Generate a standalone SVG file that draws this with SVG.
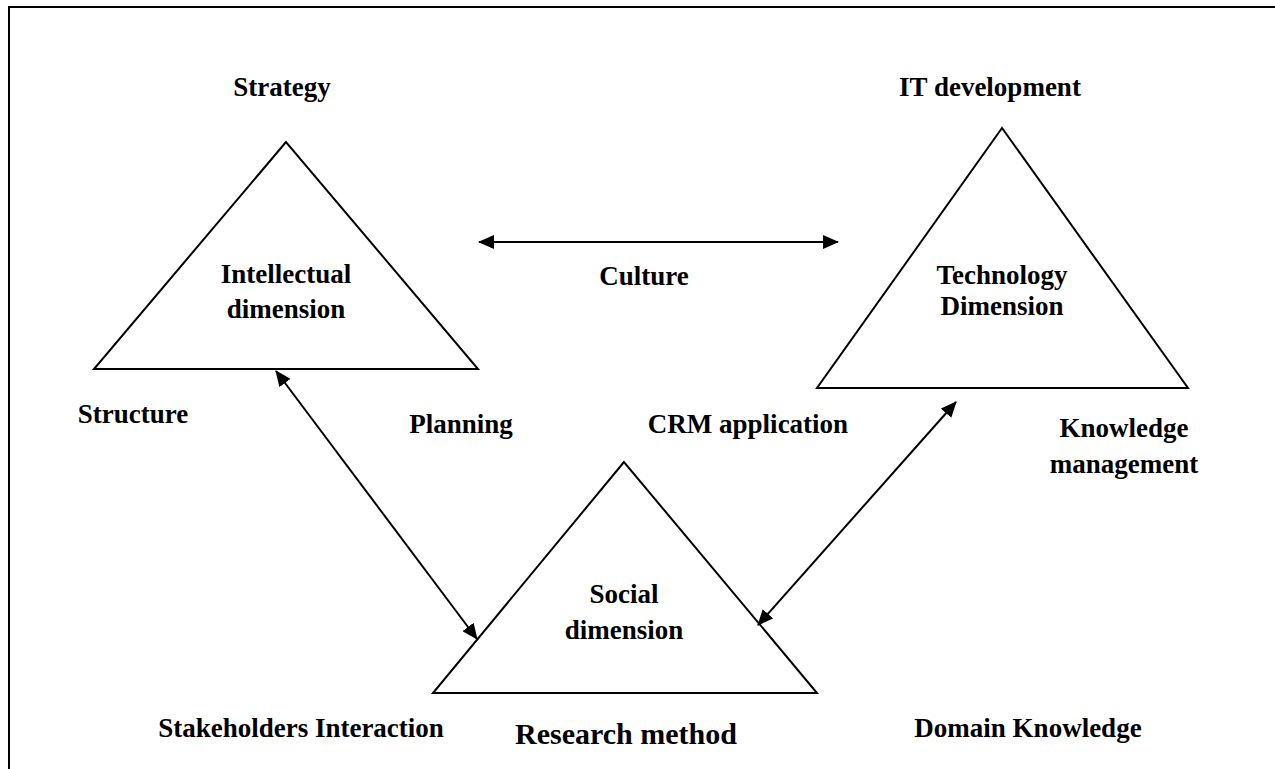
<svg xmlns="http://www.w3.org/2000/svg" width="1275" height="769" viewBox="0 0 1275 769">
  <style>
    .tri { fill: none; stroke: #000; stroke-width: 2; stroke-linejoin: miter; }
    .lbl { font-family: "Liberation Serif", "Times New Roman", serif; font-weight: bold; font-size: 27px; fill: #000; text-anchor: middle; }
    .big { font-size: 30px; }
    .con { stroke: #000; stroke-width: 2; fill: none; marker-start: url(#head); marker-end: url(#head); }
  </style>
  <defs>
    <marker id="head" viewBox="0 0 16 14" refX="15" refY="7" markerWidth="16" markerHeight="14" markerUnits="userSpaceOnUse" orient="auto-start-reverse">
      <path d="M0,0 L16,7 L0,14 Z" fill="#000"/>
    </marker>
  </defs>

  <rect width="1275" height="769" fill="#fff"/>
  <!-- frame: top and left edges -->
  <path d="M9,769 V7 H1275" fill="none" stroke="#000" stroke-width="2"/>

  <g id="intellectual">
    <polygon class="tri" points="286,142 94,369 478,369"/>
    <text class="lbl" x="286" y="283">Intellectual</text>
    <text class="lbl" x="286" y="318">dimension</text>
  </g>

  <g id="technology">
    <polygon class="tri" points="1002,128 817,388 1188,388"/>
    <text class="lbl" x="1002" y="284">Technology</text>
    <text class="lbl" x="1002" y="315">Dimension</text>
  </g>

  <g id="social">
    <polygon class="tri" points="624,462 433,693 817,693"/>
    <text class="lbl" x="624" y="603">Social</text>
    <text class="lbl" x="624" y="639">dimension</text>
  </g>

  <g id="labels">
    <text class="lbl" x="282" y="96">Strategy</text>
    <text class="lbl" x="990" y="96">IT development</text>
    <text class="lbl" x="644" y="285">Culture</text>
    <text class="lbl" x="133" y="423">Structure</text>
    <text class="lbl" x="461" y="433">Planning</text>
    <text class="lbl" x="748" y="433">CRM application</text>
    <text class="lbl" x="1124" y="437">Knowledge</text>
    <text class="lbl" x="1124" y="473">management</text>
    <text class="lbl" x="301" y="737">Stakeholders Interaction</text>
    <text class="lbl big" x="626" y="744">Research method</text>
    <text class="lbl" x="1028" y="737">Domain Knowledge</text>
  </g>

  <g id="connectors">
    <line class="con" x1="479" y1="242" x2="838" y2="242"/>
    <line class="con" x1="276" y1="371" x2="477" y2="639"/>
    <line class="con" x1="758" y1="625" x2="956" y2="402"/>
  </g>
</svg>
